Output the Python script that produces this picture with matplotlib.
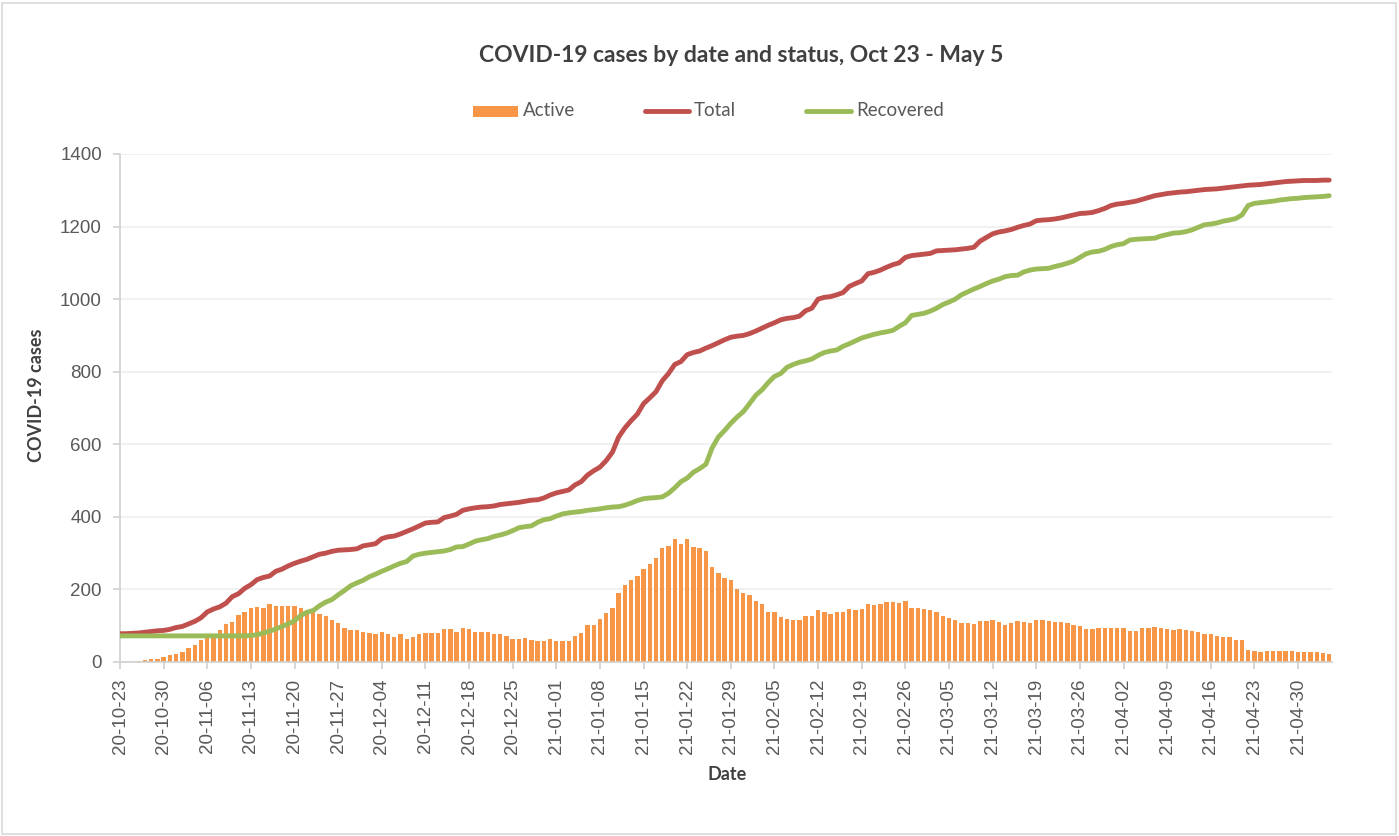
import numpy as np
import pandas as pd
import matplotlib
matplotlib.use('Agg')
import matplotlib.pyplot as plt
from matplotlib.patches import Rectangle
from matplotlib.lines import Line2D

start_date = '2020-10-23'

total = [
    78, 78, 79, 80, 82, 84, 86, 87, 90, 95,
    98, 105, 112, 122, 138, 146, 152, 162, 180, 188,
    203, 213, 227, 233, 237, 250, 256, 265, 272, 278,
    283, 290, 297, 300, 305, 308, 309, 310, 312, 320,
    323, 326, 340, 345, 347, 353, 360, 367, 375, 383,
    385, 386, 398, 402, 407, 418, 422, 425, 427, 428,
    430, 434, 436, 438, 440, 443, 446, 447, 452, 460,
    466, 470, 474, 488, 497, 515, 527, 537, 555, 578,
    620, 645, 665, 683, 712, 728, 745, 775, 795, 820,
    828, 847, 853, 857, 865, 872, 880, 888, 895, 898,
    900, 905, 912, 920, 928, 935, 943, 947, 949, 953,
    968, 975, 1000, 1005, 1007, 1012, 1018, 1035, 1043, 1050,
    1070, 1074, 1080, 1088, 1095, 1100, 1115, 1120, 1122, 1124,
    1126, 1133, 1134, 1135, 1136, 1138, 1140, 1143, 1160, 1170,
    1180, 1185, 1188, 1192, 1198, 1203, 1207, 1216, 1218, 1219,
    1221, 1224, 1228, 1232, 1236, 1237, 1239, 1244, 1250, 1258,
    1262, 1264, 1267, 1270, 1275, 1280, 1285, 1288, 1291, 1293,
    1295, 1296, 1298, 1300, 1302, 1303, 1304, 1306, 1308, 1310,
    1312, 1314, 1315, 1316, 1318, 1320, 1322, 1324, 1325, 1326,
    1327, 1327, 1327, 1328, 1328,
]

recovered = [
    72, 72, 72, 72, 72, 72, 72, 72, 72, 72,
    72, 72, 72, 72, 72, 72, 72, 72, 72, 72,
    72, 73, 75, 80, 85, 91, 98, 105, 114, 128,
    137, 142, 155, 165, 172, 185, 197, 210, 218, 225,
    235, 242, 250, 257, 265, 272, 277, 292, 297, 300,
    302, 304, 306, 310, 317, 318, 325, 333, 337, 340,
    346, 350, 355, 362, 370, 373, 375, 385, 392, 395,
    402, 408, 411, 413, 415, 418, 420, 422, 425, 427,
    428, 432, 438, 445, 450, 452, 453, 455, 465, 480,
    497, 507, 523, 533, 545, 590, 620, 638, 658, 675,
    690, 712, 735, 750, 770, 787, 795, 812, 820, 826,
    830, 835, 845, 853, 857, 860, 870, 877, 885, 893,
    898, 903, 907, 910, 914, 925, 935, 955, 958, 961,
    967, 975, 985, 992, 1000, 1012, 1020, 1028, 1035, 1043,
    1050, 1055, 1062, 1065, 1066, 1075, 1080, 1083, 1084, 1085,
    1090, 1094, 1099, 1105, 1115, 1125, 1130, 1132, 1137, 1145,
    1150, 1153, 1163, 1165, 1166, 1167, 1168, 1174, 1178, 1182,
    1183, 1186, 1191, 1198, 1205, 1207, 1210, 1215, 1218, 1222,
    1232, 1258, 1264, 1266, 1268, 1270, 1273, 1275, 1277, 1278,
    1280, 1281, 1282, 1283, 1285,
]

active = [
    0, 0, 0, 3, 5, 7, 9, 13, 18, 22,
    28, 38, 47, 60, 70, 77, 89, 106, 111, 129,
    139, 150, 152, 149, 159, 155, 153, 153, 153, 150,
    143, 138, 133, 128, 117, 107, 94, 87, 87, 82,
    80, 77, 83, 76, 70, 78, 64, 68, 76, 81,
    79, 81, 90, 90, 84, 95, 92, 84, 84, 83,
    76, 77, 72, 64, 64, 66, 62, 57, 58, 64,
    57, 59, 58, 73, 81, 103, 103, 119, 136, 148,
    191, 211, 227, 237, 256, 271, 287, 315, 321, 338,
    324, 338, 316, 314, 307, 261, 246, 232, 227, 202,
    191, 186, 168, 161, 138, 138, 124, 119, 117, 117,
    128, 126, 142, 138, 133, 138, 138, 145, 144, 147,
    159, 158, 161, 165, 165, 162, 167, 150, 150, 147,
    142, 138, 127, 121, 117, 107, 107, 105, 113, 113,
    115, 110, 103, 107, 113, 109, 107, 117, 116, 113,
    110, 110, 108, 101, 98, 90, 90, 93, 95, 95,
    93, 93, 85, 85, 93, 94, 97, 93, 92, 88,
    90, 87, 85, 82, 76, 76, 73, 69, 69, 62,
    60, 33, 29, 28, 29, 29, 31, 31, 29, 28,
    27, 27, 27, 26, 22,
]

series_names = ['Active', 'Total', 'Recovered']
title = 'COVID-19 cases by date and status, Oct 23 - May 5'
x_title = 'Date'
y_title = 'COVID-19 cases'
y_ticks = [0, 200, 400, 600, 800, 1000, 1200, 1400]

dates = pd.date_range(start_date, periods=len(total))
tick_labels = [d.strftime('%y-%m-%d') for d in dates[::7]]

C_ACT = '#F79646'
C_TOT = '#C0504D'
C_REC = '#9BBB59'
TXT = '#595959'
LW = 3.5

W, H = 1399, 836
fig = plt.figure(figsize=(W / 100, H / 100), dpi=100)


def fx(px):
    return px / W


def fy(py):
    return 1 - py / H


# chart-area border
fig.patches.append(Rectangle((fx(2), fy(834)), fx(1396) - fx(2), fy(3) - fy(834),
                             transform=fig.transFigure, fill=False,
                             edgecolor='#D9D9D9', lw=1.2))

ax = fig.add_axes([fx(120), fy(662), fx(1332) - fx(120), fy(154) - fy(662)])
x = np.arange(len(total))
ax.bar(x, active, width=0.7, color=C_ACT, zorder=2)
ax.plot(x, total, color=C_TOT, lw=LW, solid_capstyle='round', solid_joinstyle='round', zorder=3)
ax.plot(x, recovered, color=C_REC, lw=LW, solid_capstyle='round', solid_joinstyle='round', zorder=4)

ax.set_xlim(0, 194.45)
ax.set_ylim(0, 1400)
ax.set_yticks(y_ticks)
ax.set_yticklabels([str(v) for v in y_ticks], fontsize=13.5, color=TXT,
                   family='Liberation Sans')
ax.set_xticks(x[::7])
ax.set_xticklabels(tick_labels, rotation=90, fontsize=13.5, color=TXT,
                   family='Liberation Sans', ha='center', va='top')
ax.tick_params(axis='x', length=5, width=1.2, color='#D0D0D0', pad=7)
ax.tick_params(axis='y', length=5, width=1.2, color='#D0D0D0', pad=8)
ax.grid(axis='y', color='#EEEEEE', lw=1.1, zorder=0)
ax.set_axisbelow(True)
for s in ['top', 'right']:
    ax.spines[s].set_visible(False)
for s in ['left', 'bottom']:
    ax.spines[s].set_color('#D0D0D0')
    ax.spines[s].set_linewidth(1.2)

# titles
fig.text(fx(741), fy(55), title, ha='center', va='center', fontsize=16.5,
         fontweight='bold', color='#404040', family='Lato')
fig.text(fx(727), fy(775), x_title, ha='center', va='center', fontsize=13,
         fontweight='bold', color='#404040', family='Lato')
fig.text(fx(36), fy(395), y_title, ha='center', va='center', fontsize=13,
         fontweight='bold', color='#404040', family='Lato', rotation=90)

# legend
ly = 111
fig.patches.append(Rectangle((fx(473), fy(117)), fx(518) - fx(473), fy(106) - fy(117),
                             transform=fig.transFigure, facecolor=C_ACT, edgecolor='none'))
fig.text(fx(523), fy(ly), series_names[0], ha='left', va='center', fontsize=13.5,
         color=TXT, family='Lato')
fig.lines.append(Line2D([fx(645), fx(689)], [fy(ly), fy(ly)], transform=fig.transFigure,
                        color=C_TOT, lw=LW, solid_capstyle='round'))
fig.text(fx(694), fy(ly), series_names[1], ha='left', va='center', fontsize=13.5,
         color=TXT, family='Lato')
fig.lines.append(Line2D([fx(806), fx(851)], [fy(ly), fy(ly)], transform=fig.transFigure,
                        color=C_REC, lw=LW, solid_capstyle='round'))
fig.text(fx(856), fy(ly), series_names[2], ha='left', va='center', fontsize=13.5,
         color=TXT, family='Lato')

fig.savefig('out.png', dpi=100)
